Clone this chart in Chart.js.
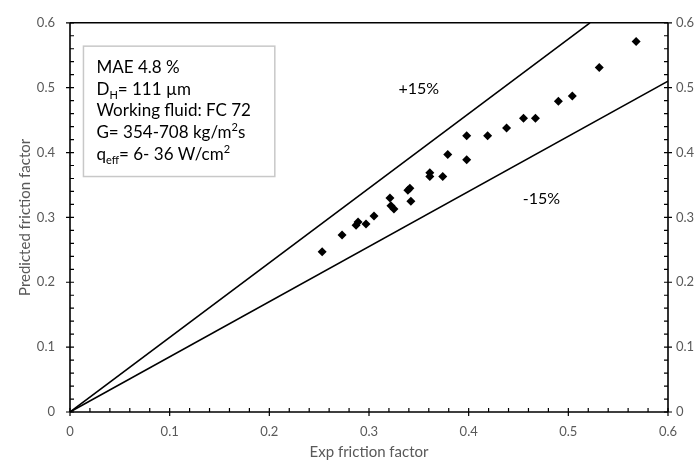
<!DOCTYPE html>
<html>
<head>
<meta charset="utf-8">
<script src="https://cdn.jsdelivr.net/npm/chart.js@4.4.1/dist/chart.umd.min.js"></script>
<style>
  html, body { margin: 0; padding: 0; background: #fff; }
  #grafico { display: block; }
</style>
</head>
<body>
<canvas id="grafico" width="698" height="469"></canvas>
<script>
// --- Datos ---
const expX = [0.253, 0.273, 0.287, 0.289, 0.297, 0.305, 0.321, 0.322, 0.325, 0.339, 0.341, 0.342, 0.361,
  0.361, 0.374, 0.379, 0.398, 0.398, 0.419, 0.438, 0.455, 0.467, 0.490, 0.504, 0.531, 0.568];
const predY = [0.247, 0.273, 0.288, 0.293, 0.290, 0.302, 0.330, 0.318, 0.313, 0.342, 0.345, 0.325, 0.369,
  0.363, 0.363, 0.397, 0.426, 0.389, 0.426, 0.438, 0.453, 0.453, 0.479, 0.487, 0.531, 0.571];

// Bandas +15% / -15%
const lineaSupX = [0, 0.5217];
const lineaSupY = [0, 0.6];
const lineaInfX = [0, 0.6];
const lineaInfY = [0, 0.51];

const ticksMayores = [0, 0.1, 0.2, 0.3, 0.4, 0.5, 0.6];
const ticksMenores = [0.02, 0.04, 0.06, 0.08, 0.12, 0.14, 0.16, 0.18, 0.22, 0.24, 0.26, 0.28,
  0.32, 0.34, 0.36, 0.38, 0.42, 0.44, 0.46, 0.48, 0.52, 0.54, 0.56, 0.58];

const tituloX = "Exp friction factor";
const tituloY = "Predicted friction factor";
const etiquetaSup = "+15%";
const etiquetaInf = "-15%";

// Cada renglón: segmentos [texto, "sub" | "sup" | ""]
const cuadroTexto = [
  [["MAE 4.8 %", ""]],
  [["D", ""], ["H", "sub"], ["= 111 µm", ""]],
  [["Working fluid: FC 72", ""]],
  [["G= 354-708 kg/m", ""], ["2", "sup"], ["s", ""]],
  [["q", ""], ["eff", "sub"], ["= 6- 36 W/cm", ""], ["2", "sup"]],
];

const GRIS = "#595959";
const FUENTE = "Lato";

const fmt = (v) => (v === 0 ? "0" : Number(v).toFixed(1));
const fijarTicks = (s) => { s.ticks = ticksMayores.map((v) => ({ value: v })); };

// --- Ejes, ticks y anotaciones dibujados a mano ---
const extras = {
  id: "extras",
  afterDraw(chart) {
    const { ctx, chartArea: a } = chart;
    const sx = chart.scales.x;
    const sy = chart.scales.y;
    ctx.save();
    ctx.strokeStyle = "#000";
    ctx.lineWidth = 1.6;

    // marco
    ctx.beginPath();
    ctx.moveTo(a.left, a.top); ctx.lineTo(a.right, a.top);
    ctx.moveTo(a.left, a.top); ctx.lineTo(a.left, a.bottom);
    ctx.moveTo(a.left, a.bottom); ctx.lineTo(a.right, a.bottom);
    ctx.moveTo(a.right, a.top); ctx.lineTo(a.right, a.bottom);
    ctx.stroke();

    ctx.lineWidth = 1.2;
    ctx.beginPath();
    ticksMayores.forEach((v) => {
      const px = sx.getPixelForValue(v);
      ctx.moveTo(px, a.bottom - 4); ctx.lineTo(px, a.bottom + 4);
      const py = sy.getPixelForValue(v);
      ctx.moveTo(a.left - 4, py); ctx.lineTo(a.left + 4, py);
      ctx.moveTo(a.right - 4, py); ctx.lineTo(a.right + 4, py);
    });
    ticksMenores.forEach((v) => {
      const px = sx.getPixelForValue(v);
      ctx.moveTo(px, a.bottom); ctx.lineTo(px, a.bottom - 4);
      const py = sy.getPixelForValue(v);
      ctx.moveTo(a.left, py); ctx.lineTo(a.left + 4, py);
      ctx.moveTo(a.right, py); ctx.lineTo(a.right - 4, py);
    });
    ctx.stroke();

    // etiquetas de las bandas
    ctx.fillStyle = "#000";
    ctx.font = `16px ${FUENTE}`;
    ctx.textAlign = "center";
    ctx.textBaseline = "middle";
    ctx.fillText(etiquetaSup, sx.getPixelForValue(0.35), sy.getPixelForValue(0.498));
    ctx.fillText(etiquetaInf, sx.getPixelForValue(0.473), sy.getPixelForValue(0.328));

    // cuadro de texto
    const bx0 = sx.getPixelForValue(0.0135), bx1 = sx.getPixelForValue(0.2055);
    const by0 = sy.getPixelForValue(0.564), by1 = sy.getPixelForValue(0.363);
    ctx.fillStyle = "#fff";
    ctx.fillRect(bx0, by0, bx1 - bx0, by1 - by0);
    ctx.strokeStyle = "#c8c8c8";
    ctx.lineWidth = 1.5;
    ctx.strokeRect(bx0, by0, bx1 - bx0, by1 - by0);

    ctx.fillStyle = "#000";
    ctx.textAlign = "left";
    ctx.textBaseline = "alphabetic";
    cuadroTexto.forEach((renglon, i) => {
      let x = bx0 + 13;
      const y = by0 + 27 + i * 21.6;
      renglon.forEach(([txt, tipo]) => {
        if (tipo === "") {
          ctx.font = `17px ${FUENTE}`;
          ctx.fillText(txt, x, y);
        } else {
          ctx.font = `11px ${FUENTE}`;
          ctx.fillText(txt, x, tipo === "sub" ? y + 4 : y - 7);
        }
        x += ctx.measureText(txt).width;
      });
    });
    ctx.restore();
  },
};

const tickFont = { family: FUENTE, size: 13 };

new Chart(document.getElementById("grafico"), {
  type: "scatter",
  data: {
    datasets: [
      {
        label: "Puntos",
        data: expX.map((x, i) => ({ x, y: predY[i] })),
        pointStyle: "rectRot",
        pointRadius: 4.5,
        backgroundColor: "#000",
        borderColor: "#000",
        borderWidth: 0,
      },
      {
        type: "line",
        label: "+15%",
        data: lineaSupX.map((x, i) => ({ x, y: lineaSupY[i] })),
        borderColor: "#000",
        borderWidth: 1.6,
        pointRadius: 0,
        fill: false,
      },
      {
        type: "line",
        label: "-15%",
        data: lineaInfX.map((x, i) => ({ x, y: lineaInfY[i] })),
        borderColor: "#000",
        borderWidth: 1.6,
        pointRadius: 0,
        fill: false,
      },
    ],
  },
  options: {
    responsive: false,
    animation: false,
    devicePixelRatio: 1,
    layout: { padding: { top: 18, left: 0, right: 0, bottom: 0 } },
    plugins: { legend: { display: false }, tooltip: { enabled: false } },
    scales: {
      x: {
        type: "linear", position: "bottom", min: 0, max: 0.6,
        afterBuildTicks: fijarTicks,
        afterFit: (s) => { s.height = 57; },
        grid: { display: false, drawTicks: false },
        border: { display: false },
        ticks: { color: GRIS, font: tickFont, padding: 12, maxRotation: 0, callback: fmt },
        title: { display: true, text: tituloX, color: GRIS, font: { family: FUENTE, size: 15 }, padding: { top: 0, bottom: 8 } },
      },
      y: {
        type: "linear", position: "left", min: 0, max: 0.6,
        afterBuildTicks: fijarTicks,
        afterFit: (s) => { s.width = 70; },
        grid: { display: false, drawTicks: false },
        border: { display: false },
        ticks: { color: GRIS, font: tickFont, padding: 15, callback: fmt },
        title: { display: true, text: tituloY, color: GRIS, font: { family: FUENTE, size: 15 }, padding: { top: 16, bottom: 0 } },
      },
      y2: {
        type: "linear", position: "right", min: 0, max: 0.6,
        afterBuildTicks: fijarTicks,
        afterFit: (s) => { s.width = 30; },
        grid: { display: false, drawTicks: false },
        border: { display: false },
        ticks: { color: GRIS, font: tickFont, padding: 8, callback: fmt },
      },
    },
  },
  plugins: [extras],
});
</script>
</body>
</html>
